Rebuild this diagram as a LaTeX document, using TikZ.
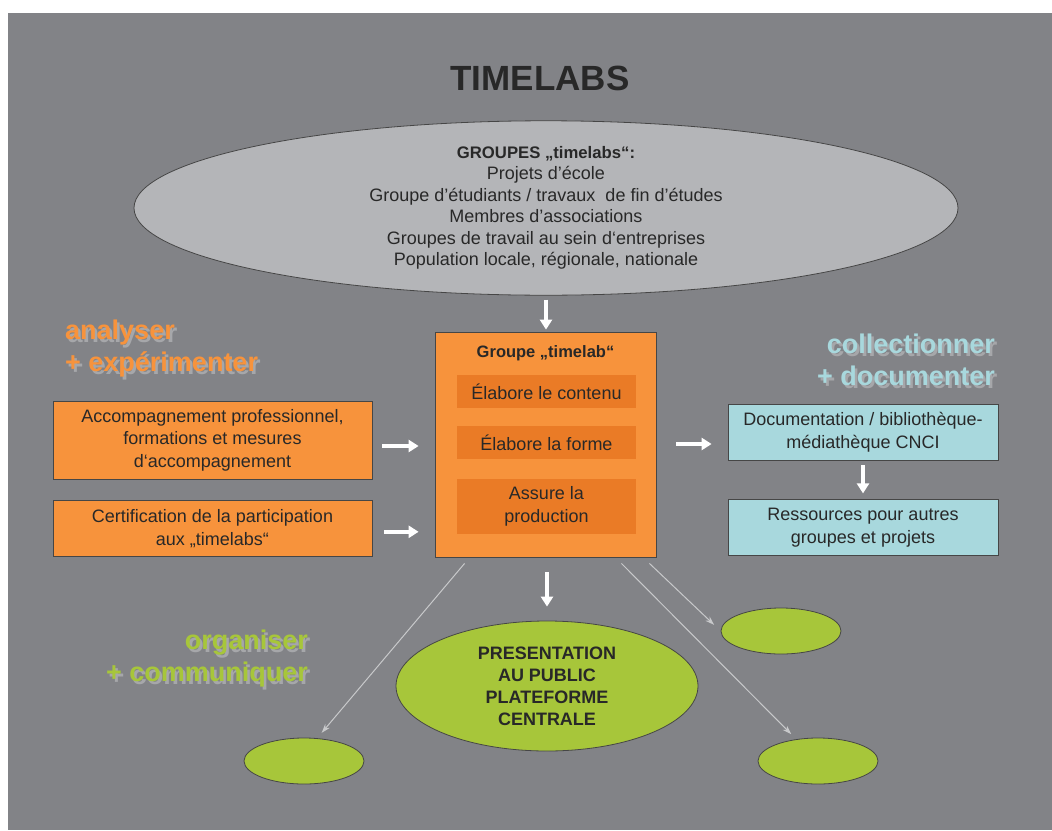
\documentclass[tikz,border=0pt]{standalone}
\usepackage{fontspec}
\setmainfont{Liberation Sans}
\usetikzlibrary{shapes.geometric,positioning,arrows.meta}
\definecolor{bg}{RGB}{130,131,135}
\definecolor{ovgray}{RGB}{180,181,184}
\definecolor{orng}{RGB}{247,147,60}
\definecolor{orngdk}{RGB}{234,123,38}
\definecolor{cyan}{RGB}{168,216,221}
\definecolor{grn}{RGB}{167,198,58}
\definecolor{ink}{RGB}{40,40,40}
\definecolor{edge}{RGB}{70,70,70}
\definecolor{thinarr}{RGB}{200,201,203}
\definecolor{shade}{RGB}{166,167,170}

\begin{document}
\begin{tikzpicture}[x=1pt,y=-1pt]
  % Settings
  \tikzset{
    txt/.style={font=\fontsize{18}{22.5}\selectfont, text=ink, align=center},
    orbox/.style={draw=edge, line width=.8pt, fill=orng, shape=rectangle, minimum width=319pt, inner sep=0pt, txt},
    cybox/.style={draw=edge, line width=.8pt, fill=cyan, shape=rectangle, minimum width=270pt, minimum height=56pt, inner sep=0pt, txt},
    subbox/.style={fill=orngdk, shape=rectangle, minimum width=179pt, inner sep=0pt, txt},
    grpoval/.style={draw=edge, line width=.8pt, fill=ovgray, shape=ellipse, minimum width=824pt, minimum height=174pt, inner sep=0pt, txt, font=\fontsize{18}{21.5}\selectfont},
    gnoval/.style={draw=edge, line width=.8pt, fill=grn, shape=ellipse, inner sep=0pt, txt},
    phrase/.style={inner sep=0pt, font=\fontsize{27}{32}\selectfont\bfseries},
    wharr/.style={draw=white, line width=4pt, -{Triangle[width=12pt,length=10pt]}},
    gyarr/.style={draw=thinarr, line width=1pt, -{Stealth[width=6pt,length=9pt]}},
  }
  \useasboundingbox (0,0) rectangle (1052,830);
  \fill[bg] (8,13) rectangle (1052,830);
  \node[font=\fontsize{35}{40}\selectfont\bfseries, text=ink] (title) at (540,78) {TIMELABS};
  \node[grpoval] (groupes) at (546,208) {{\fontsize{16.7}{21.5}\selectfont\bfseries GROUPES „timelabs“:}\\Projets d’école\\Groupe d’étudiants / travaux\ \ de fin d’études\\Membres d’associations\\Groupes de travail au sein d‘entreprises\\Population locale, régionale, nationale};
  % Left column
  \node[phrase, text=shade, anchor=west, align=left] (analyse-sh) at (67.5,351.5) {analyser\\+ expérimenter};
  \node[phrase, text=orng, anchor=west, align=left] (analyse) at (65,349) {analyser\\+ expérimenter};
  \node[orbox, minimum height=78pt] (acc) at (212.5,440) {Accompagnement professionnel,\\formations et mesures\\d‘accompagnement};
  \node[orbox, minimum height=56pt, below=21pt of acc] (cert) {Certification de la participation\\aux „timelabs“};
  % Center
  \node[draw=edge, line width=.8pt, fill=orng, minimum width=221pt, minimum height=225pt] (grp) at (545.5,444.5) {};
  \node[font=\fontsize{16.5}{20}\selectfont\bfseries, text=ink] (grptitle) at (545.5,353) {Groupe „timelab“};
  \node[subbox, minimum height=33pt] (contenu) at (546.5,391.5) {Élabore le contenu};
  \node[subbox, minimum height=33pt, below=18pt of contenu] (forme) {Élabore la forme};
  \node[subbox, minimum height=55pt, below=19pt of forme] (prod) {Assure la\\production};
  % Right column
  \node[phrase, text=shade, anchor=east, align=right] (collect-sh) at (997.5,362.5) {collectionner\\+ documenter};
  \node[phrase, text=cyan, anchor=east, align=right] (collect) at (995,360) {collectionner\\+ documenter};
  \node[cybox] (doc) at (863,432) {Documentation / bibliothèque-\\médiathèque CNCI};
  \node[cybox, below=39pt of doc] (res) {Ressources pour autres\\groupes et projets};
  % Bottom
  \node[phrase, text=shade, anchor=east, align=right] (orga-sh) at (310.5,661.5) {organiser\\+ communiquer};
  \node[phrase, text=grn, anchor=east, align=right] (orga) at (308,659) {organiser\\+ communiquer};
  \node[gnoval, minimum width=302pt, minimum height=130pt, font=\fontsize{18}{22}\selectfont\bfseries] (pres) at (547,686) {PRESENTATION\\AU PUBLIC\\PLATEFORME\\CENTRALE};
  \node[gnoval, minimum width=120pt, minimum height=46pt] (ovtr) at (781,631) {};
  \node[gnoval, minimum width=120pt, minimum height=46pt] (ovbl) at (304,761) {};
  \node[gnoval, minimum width=120pt, minimum height=46pt] (ovbr) at (818,761) {};
  % Arrows
  \draw[wharr, shorten <=4pt, shorten >=2pt] (groupes.south) -- (groupes.south |- grp.north);
  \draw[wharr, shorten <=10pt, shorten >=16pt] ([yshift=-6pt]acc.east) -- ([yshift=-6pt]acc.east -| grp.west);
  \draw[wharr, shorten <=12pt, shorten >=16pt] ([yshift=-3pt]cert.east) -- ([yshift=-3pt]cert.east -| grp.west);
  \draw[wharr, shorten <=20pt, shorten >=16pt] ([yshift=-12pt]doc.west -| grp.east) -- ([yshift=-12pt]doc.west);
  \draw[wharr, shorten <=5pt, shorten >=6pt] (doc) -- (res);
  \draw[wharr, shorten <=15pt, shorten >=14pt] (grp.south -| pres) -- (pres.north);
  \draw[gyarr, shorten >=7pt] ([xshift=30pt,yshift=-6pt]grp.south west) -- (ovbl.60);
  \draw[gyarr, shorten >=7pt] ([xshift=-35pt,yshift=-6pt]grp.south east) -- (ovbr.135);
  \draw[gyarr, shorten >=9pt] ([xshift=-7pt,yshift=-6pt]grp.south east) -- (ovtr.west);
\end{tikzpicture}
\end{document}
